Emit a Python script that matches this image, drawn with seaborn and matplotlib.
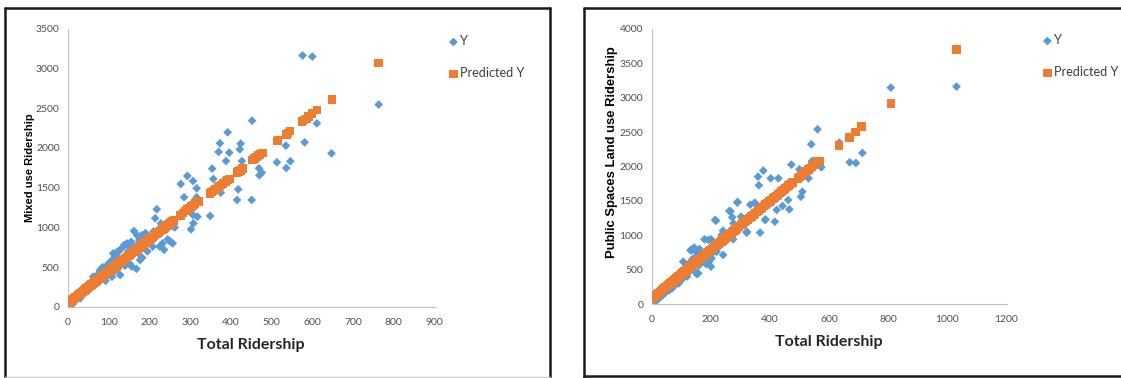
"""
plot.py: Y vs Predicted Y against Total Ridership, two Excel-style panels.
"""

import matplotlib.pyplot as plt
import matplotlib.lines as mlines
import seaborn as sns

# ── Data: Mixed use panel ────────────────────────────────────────────────────
mixed_y_x = [
    3, 5, 8, 10, 12, 15, 18, 20, 22, 25, 28, 30, 32, 35, 38, 40, 42, 45, 48, 50,
    52, 55, 58, 60, 62, 65, 68, 70, 72, 75, 78, 79, 82, 85, 88, 90, 92, 95, 98, 100,
    102, 105, 108, 110, 111, 114, 116, 118, 120, 122, 125, 128, 130, 132, 135, 138,
    140, 142, 145, 148, 150, 152, 155, 157, 160, 162, 165, 168, 170, 172, 175, 177,
    180, 182, 185, 188, 190, 195, 198, 200, 205, 208, 210, 214, 218, 220, 225, 228,
    232, 236, 240, 245, 251, 257, 262,
    277, 285, 293, 302, 307, 308, 307, 316, 316, 318, 349, 354, 357, 370, 373, 375,
    388, 392, 396, 415, 418, 422, 424, 427, 451, 452, 469, 470, 476, 513, 535, 536,
    546, 576, 581, 600, 611, 647, 763,
]
mixed_y = [
    5, 30, 60, 80, 40, 110, 90, 130, 100, 160, 120, 109, 180, 150, 200, 170, 230, 190, 250, 210,
    280, 230, 255, 310, 381, 270, 340, 290, 400, 320, 440, 465, 360, 500, 380, 430, 330, 520, 400, 470,
    560, 420, 380, 600, 675, 450, 640, 520, 690, 480, 700, 403, 560, 740, 620, 780,
    520, 650, 800, 700, 760, 540, 820, 507, 700, 956, 760, 480, 900, 680, 840, 591,
    900, 620, 760, 880, 930, 700, 880, 820, 900, 760, 950, 1116, 1229, 900, 760, 1050,
    800, 720, 980, 850, 822, 801, 1000,
    1547, 1380, 1648, 977, 1585, 1053, 1157, 1493, 1380, 1136, 1145, 1740, 1610, 1950, 2059, 1438,
    1836, 2197, 1941, 1346, 1480, 1983, 2054, 1836, 1346, 2343, 1744, 1657, 1690, 1820, 2029, 1748,
    1833, 3163, 2071, 3150, 2310, 1933, 2546,
]
mixed_pred_x = [
    0, 2, 4, 6, 8, 10, 13, 16, 19, 22, 25, 28, 31, 34, 37, 40, 43, 46, 49, 52,
    55, 58, 61, 64, 67, 70, 73, 76, 79, 82, 85, 88, 91, 94, 97, 100, 103, 106, 109, 112,
    115, 118, 121, 124, 127, 130, 133, 136, 139, 142, 145, 148, 151, 154, 157, 160, 163, 166,
    169, 172, 175, 178, 181, 184, 187, 190, 193, 196, 199, 202, 205, 208, 211, 214, 217, 220,
    223, 226, 229, 232, 235, 238, 241, 244, 247, 250, 253, 256, 260,
    276, 282, 288, 293, 298, 303, 308, 312, 316, 320, 349, 352, 356, 362, 368, 372,
    376, 381, 388, 392, 397, 415, 419, 423, 428, 453, 458, 463, 467, 472, 477, 513,
    516, 536, 540, 545, 575, 580, 585, 591, 599, 611, 648, 763,
]
mixed_pred = [
    50, 58, 66, 74, 82, 90, 102, 114, 126, 138, 150, 162, 174, 186, 198, 210, 222, 234, 246, 258,
    270, 282, 294, 306, 318, 330, 342, 354, 366, 378, 390, 402, 414, 426, 438, 450, 462, 474, 486, 498,
    510, 522, 534, 546, 558, 570, 582, 594, 606, 618, 630, 642, 654, 666, 678, 690, 702, 714,
    726, 738, 750, 762, 774, 786, 798, 810, 822, 834, 846, 858, 870, 882, 894, 906, 918, 930,
    942, 954, 966, 978, 990, 1002, 1014, 1026, 1038, 1050, 1062, 1074, 1090,
    1150, 1180, 1205, 1225, 1245, 1265, 1285, 1300, 1320, 1330, 1430, 1445, 1460, 1480, 1505, 1520,
    1535, 1555, 1580, 1597, 1610, 1690, 1702, 1718, 1740, 1846, 1865, 1888, 1904, 1920, 1935, 2085,
    2095, 2170, 2190, 2215, 2330, 2350, 2365, 2395, 2430, 2475, 2610, 3070,
]

# ── Data: Public spaces panel ────────────────────────────────────────────────
public_y_x = [
    2, 4, 6, 8, 10, 12, 14, 16, 18, 20, 22, 24, 26, 28, 30, 32, 34, 36, 38, 40,
    42, 44, 46, 48, 51, 52, 55, 58, 60, 62, 65, 68, 70, 72, 75, 78, 80, 82, 85, 88,
    90, 92, 95, 98, 100, 102, 105, 107, 110, 112, 115, 118, 120, 122, 125, 128, 130, 132,
    135, 136, 138, 140, 142, 145, 148, 150, 153, 155, 158, 160, 162, 165, 168, 170, 175, 179,
    182, 185, 188, 192, 195, 198, 201, 201, 203, 205, 210, 215, 218, 220, 225, 230, 237, 242,
    242, 248, 255, 263, 267, 273, 276, 277, 290, 291, 303, 322, 322, 334, 349, 350, 360, 363,
    367, 378, 384, 385, 391, 403, 417, 423, 429, 443, 462, 466, 468, 473, 500, 505, 510, 531,
    540, 543, 561, 574, 635, 670, 691, 713, 809, 1031,
]
public_y = [
    0, 20, 10, 40, 30, 60, 50, 70, 80, 60, 100, 90, 110, 100, 130, 110, 140, 125, 160, 140,
    170, 155, 190, 175, 252, 190, 210, 230, 200, 250, 240, 270, 230, 290, 260, 300, 280, 330, 349, 310,
    360, 300, 380, 340, 420, 360, 450, 615, 390, 500, 430, 560, 400, 520, 460, 600, 480, 780,
    795, 785, 540, 660, 500, 820, 620, 760, 436, 700, 446, 560, 800, 600, 720, 640, 680, 941,
    760, 580, 700, 931, 620, 780, 543, 941, 665, 740, 800, 1222, 1212, 760, 900, 840, 1004, 713,
    1067, 960, 980, 1353, 1348, 1261, 941, 1174, 1474, 1484, 1271, 1052, 1037, 1445, 1474, 1465, 1853, 1726,
    1038, 1940, 1222, 1232, 1455, 1828, 1197, 1368, 1828, 1426, 1513, 1377, 1697, 2027, 1959, 1561, 1634, 1828,
    2323, 2080, 2541, 1988, 2347, 2061, 2051, 2197, 3147, 3162,
]
public_pred_x = [
    0, 4, 8, 12, 16, 20, 24, 28, 32, 36, 40, 44, 48, 52, 56, 60, 64, 68, 72, 76,
    80, 84, 88, 92, 96, 100, 104, 108, 112, 116, 120, 124, 128, 132, 136, 140, 144, 148, 152, 156,
    160, 164, 168, 172, 176, 180, 184, 188, 192, 196, 200, 204, 208, 212, 216, 220, 224, 228, 232, 236,
    240, 244, 248, 252, 256, 260, 264, 268, 272, 276, 280, 284, 288,
    296, 302, 308, 314, 320, 326, 332, 338, 344, 350, 356, 362, 368, 374, 380, 386, 392, 398,
    404, 410, 416, 422, 428, 434, 440, 446, 452, 458, 464, 470, 476, 495, 500, 506, 512, 518,
    524, 530, 536, 542, 548, 556, 562, 570, 634, 669, 689, 710, 809, 1031,
]
public_pred = [
    75, 89, 103, 118, 132, 146, 160, 174, 189, 203, 217, 231, 245, 260, 274, 288, 302, 316, 331, 345,
    359, 373, 387, 402, 416, 430, 444, 458, 473, 487, 501, 515, 529, 544, 558, 572, 586, 600, 615, 629,
    643, 657, 671, 686, 700, 714, 728, 742, 757, 771, 785, 799, 813, 828, 842, 856, 870, 884, 899, 913,
    927, 941, 955, 970, 984, 998, 1012, 1026, 1041, 1055, 1069, 1083, 1097,
    1126, 1147, 1168, 1190, 1211, 1232, 1254, 1275, 1296, 1318, 1339, 1360, 1381, 1403, 1424, 1445, 1467, 1488,
    1509, 1531, 1552, 1573, 1594, 1616, 1637, 1658, 1680, 1701, 1722, 1744, 1765, 1828, 1850, 1871, 1893, 1914,
    1935, 1957, 1978, 1999, 2020, 2049, 2070, 2080, 2304, 2425, 2502, 2580, 2919, 3705,
]

# ── Style ────────────────────────────────────────────────────────────────────
sns.set_theme(style="white")
CALIBRI_LIKE = ["Lato", "DejaVu Sans"]
ARIAL = ["Liberation Sans", "DejaVu Sans"]
plt.rcParams["font.family"] = CALIBRI_LIKE
BLUE = "#5B9BD5"
ORANGE = "#ED7D31"
AXIS_GREY = "#BFBFBF"
TEXT_GREY = "#505050"

W, H = 1121, 378
fig = plt.figure(figsize=(W / 100, H / 100), dpi=100)


def _fig_rect(x0, y0, x1, y1):
    """Pixel box (top-left origin) -> figure fraction [l, b, w, h]."""
    return [x0 / W, 1 - y1 / H, (x1 - x0) / W, (y1 - y0) / H]


def _panel(rect, x, y, px, py, xmax, xstep, ymax, ylabel, ylabel_size, legend_xy):
    ax = fig.add_axes(_fig_rect(*rect))
    sns.scatterplot(x=x, y=y, ax=ax, marker="D", s=20, color=BLUE,
                    edgecolor="none", label="Y", zorder=2)
    sns.scatterplot(x=px, y=py, ax=ax, marker="s", s=38, color=ORANGE,
                    edgecolor="none", label="Predicted Y", zorder=3)
    ax.set_xlim(0, xmax)
    ax.set_ylim(0, ymax)
    ax.set_xticks(range(0, xmax + 1, xstep))
    ax.set_yticks(range(0, ymax + 1, 500))
    for side in ("top", "right"):
        ax.spines[side].set_visible(False)
    for side in ("left", "bottom"):
        ax.spines[side].set_color(AXIS_GREY)
        ax.spines[side].set_linewidth(0.8)
    ax.tick_params(axis="both", direction="out", length=3, width=0.8,
                   color=AXIS_GREY, labelcolor=TEXT_GREY, labelsize=7.5, pad=3)
    ax.tick_params(axis="x", pad=5)
    ax.set_xlabel("Total Ridership", fontsize=11.5, fontweight="bold",
                  color="#262626", labelpad=8)
    ax.set_ylabel(ylabel, fontsize=ylabel_size, fontweight="bold",
                  family=ARIAL, color="black")
    ax.legend(loc="upper left", bbox_to_anchor=legend_xy,
              bbox_transform=fig.transFigure, frameon=False, fontsize=9.2,
              handletextpad=0.0, handlelength=1.1, labelspacing=1.55,
              borderpad=0, labelcolor="#404040")
    return ax


ax1 = _panel((68, 28.7, 434.5, 307), mixed_y_x, mixed_y, mixed_pred_x, mixed_pred,
             900, 100, 3500, "Mixed use Ridership", 8, (440 / W, 1 - 29 / H))
ax1.yaxis.set_label_coords(-0.091, 0.5)

ax2 = _panel((651.5, 29, 1006.5, 304), public_y_x, public_y, public_pred_x, public_pred,
             1200, 200, 4000, "Public Spaces Land use Ridership", 9.4, (1034 / W, 1 - 28 / H))
ax2.yaxis.set_label_coords(-0.093, 0.551)

# ── Panel frames (pixel coords, top-left origin) ─────────────────────────────
frame_lines = [
    ((5, 550), (8, 8), "#1a1a1a", 1.8),
    ((5, 5), (8, 378), "#1a1a1a", 1.8),
    ((550, 550), (8, 378), "#1a1a1a", 1.8),
    ((5, 550), (376.5, 376.5), "#C8C8C8", 1.0),
    ((584, 1121), (8, 8), "#1a1a1a", 1.8),
    ((584, 584), (8, 378), "#1a1a1a", 1.8),
    ((584, 1121), (376, 376), "#1a1a1a", 1.8),
]
for xs, ys, col, lw in frame_lines:
    fig.lines.append(mlines.Line2D(
        [v / W for v in xs], [1 - v / H for v in ys], transform=fig.transFigure,
        color=col, linewidth=lw, zorder=10))

fig.savefig("out.png", dpi=100)
